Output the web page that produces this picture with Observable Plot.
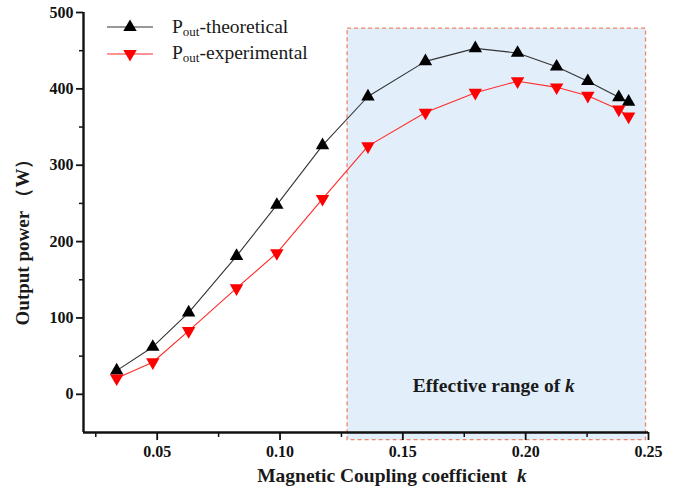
<!DOCTYPE html>
<html><head><meta charset="utf-8">
<script src="https://cdn.jsdelivr.net/npm/d3@7"></script>
<script src="https://cdn.jsdelivr.net/npm/@observablehq/plot@0.6"></script>
<style>
body{margin:0;background:#fff;}
#wrap{position:relative;width:685px;height:495px;}
.legend{position:absolute;left:107px;top:14px;font-family:"Liberation Serif",serif;font-size:19.5px;color:#1a1a1a;}
.legend .row{display:flex;align-items:center;height:26.5px;}
.legend .row span{margin-left:19px;line-height:1;}
.legend sub{font-size:13px;vertical-align:-3px;}
</style></head><body><div id="wrap"></div>
<script>
const k = [0.0335,0.0482,0.0628,0.0823,0.0987,0.1173,0.1358,0.1592,0.1795,0.1967,0.2126,0.2253,0.2379,0.2419];
const theoretical = [31,62,107,181,248,326,390,436,453,447,429,410,389,383];
const experimental = [21,42,83,139,185,256,325,369,395,410,402,391,373,364];
const effectiveRangeK = [0.1275, 0.249];
const effectiveRangeP = [-60, 479];
const xMajorTicks = [0.05,0.10,0.15,0.20,0.25];
const xMinorTicks = [0.025,0.075,0.125,0.175,0.225];
const yMajorTicks = [0,100,200,300,400,500];
const yMinorTicks = [50,150,250,350,450];
const seriesNames = ["theoretical","experimental"];
const seriesColors = ["#000000","#ff0000"];

const rows = k.map((kk,i)=>({k:kk, theo:theoretical[i], exp:experimental[i]}));
const sqrt3 = Math.sqrt(3);
const downTriangle = {draw(ctx,size){const y=-Math.sqrt(size/(sqrt3*3));ctx.moveTo(0,-y*2);ctx.lineTo(-sqrt3*y,y);ctx.lineTo(sqrt3*y,y);ctx.closePath();}};

const plot = Plot.plot({
  width:685, height:495,
  marginLeft:83, marginRight:37, marginTop:12, marginBottom:63,
  x:{domain:[0.02,0.25]},
  y:{domain:[-50,500]},
  style:{fontFamily:"'Liberation Serif', serif", fontWeight:"bold", color:"#111", background:"#fff"},
  marks:[
    Plot.rect([{x1:effectiveRangeK[0],x2:effectiveRangeK[1],y1:effectiveRangeP[0],y2:effectiveRangeP[1]}],
      {x1:"x1",x2:"x2",y1:"y1",y2:"y2",fill:"#e3eefb",stroke:"#f08468",strokeWidth:1.3,strokeDasharray:"4,3"}),
    Plot.text([{label:"Effective range of k", k:(effectiveRangeK[0]+effectiveRangeK[1])/2}],
      {x:"k", text:"label", frameAnchor:"bottom", lineAnchor:"bottom", dx:-3, dy:-41, fontSize:19.5, fill:"#1a1a1a"}),
    Plot.line(rows,{x:"k",y:"theo",stroke:"#333",strokeWidth:1.1}),
    Plot.line(rows,{x:"k",y:"exp",stroke:"#ff2a2a",strokeWidth:1.1}),
    Plot.dot(rows,{x:"k",y:"theo",symbol:"triangle",r:5,fill:seriesColors[0],stroke:"none"}),
    Plot.dot(rows,{x:"k",y:"exp",symbol:downTriangle,r:5,fill:seriesColors[1],stroke:"none"}),
    Plot.ruleX([0.02],{stroke:"#111",strokeWidth:2.4}),
    Plot.ruleY([-50],{stroke:"#111",strokeWidth:2.4}),
    Plot.axisX({ticks:xMajorTicks, tickSize:8, tickPadding:5, tickFormat:d3.format(".2f"), fontSize:16, strokeWidth:1.8, label:null}),
    Plot.axisX({ticks:xMinorTicks, tickSize:5, tickFormat:()=>"", strokeWidth:1.5, label:null}),
    Plot.axisY({ticks:yMajorTicks, tickSize:7, tickPadding:3, tickFormat:d3.format("d"), fontSize:16, strokeWidth:1.8, label:null}),
    Plot.axisY({ticks:yMinorTicks, tickSize:4, tickFormat:()=>"", strokeWidth:1.5, label:null}),
    Plot.text(["Output power （W）"],{text:d=>d, frameAnchor:"left", textAnchor:"middle", rotate:-90, dx:-61, dy:15, fontSize:19, fill:"#1a1a1a"}),
    Plot.text(["Magnetic Coupling coefficient  k"],{text:d=>d, frameAnchor:"bottom", lineAnchor:"bottom", dx:26, dy:49, fontSize:19.5, fill:"#1a1a1a"})
  ]
});

plot.querySelectorAll("text").forEach(t=>{
  const s=t.textContent;
  if(/ k$/.test(s) && (s.startsWith("Effective")||s.startsWith("Magnetic"))){
    t.textContent=s.slice(0,-1);
    const ts=document.createElementNS("http://www.w3.org/2000/svg","tspan");
    ts.setAttribute("font-style","italic"); ts.textContent="k"; t.appendChild(ts);
  }
});

const wrap=document.getElementById("wrap");
wrap.appendChild(plot);

const legend=document.createElement("div");
legend.className="legend";
seriesNames.forEach((name,i)=>{
  const row=document.createElement("div"); row.className="row";
  const tri = i===0 ? "M23,4.4L16.3,16L29.7,16Z" : "M23,19.6L16.3,8L29.7,8Z";
  const lineColor = i===0 ? "#333" : "#ff2a2a";
  row.innerHTML=`<svg width="46" height="24"><line x1="0" x2="46" y1="12" y2="12" stroke="${lineColor}" stroke-width="1.1"/><path d="${tri}" fill="${seriesColors[i]}"/></svg><span>P<sub>out</sub>-${name}</span>`;
  legend.appendChild(row);
});
wrap.appendChild(legend);
</script>
</body></html>
